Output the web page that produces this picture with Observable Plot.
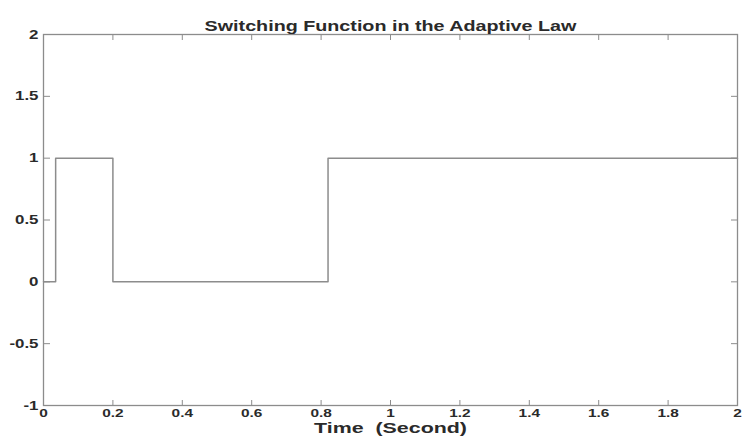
<!DOCTYPE html>
<html>
<head>
<meta charset="utf-8">
<script src="https://cdn.jsdelivr.net/npm/d3@7"></script>
<script src="https://cdn.jsdelivr.net/npm/@observablehq/plot@0.6"></script>
<style>
  html, body { margin: 0; padding: 0; background: #fff; }
</style>
</head>
<body>
<div id="chart"></div>
<script>
const title = "Switching Function in the Adaptive Law";
const xLabel = "Time  (Second)";
const times = [0, 0.035, 0.2, 0.82, 2];
const values = [0, 1, 0, 1, 1];
const xTicks = [0, 0.2, 0.4, 0.6, 0.8, 1, 1.2, 1.4, 1.6, 1.8, 2];
const yTicks = [-1, -0.5, 0, 0.5, 1, 1.5, 2];

const data = times.map((t, i) => ({t, v: values[i]}));
const font = "Liberation Sans, Arial, Helvetica, sans-serif";
const gray = "#8c8c8c";
const ink = "#2a2a2a";

const chart = Plot.plot({
  width: 743,
  height: 440,
  marginLeft: 43,
  marginRight: 6,
  marginTop: 34,
  marginBottom: 35,
  style: {fontFamily: font, fontSize: "12px", color: ink, background: "#fff"},
  x: {domain: [0, 2]},
  y: {domain: [-1, 2]},
  marks: [
    Plot.frame({stroke: gray, strokeWidth: 1.3}),
    Plot.axisX(xTicks, {anchor: "bottom", tickSize: 0, tickPadding: 4, tickFormat: d => String(d), label: null, fontWeight: "bold", fontSize: 11, fill: ink}),
    Plot.axisX(xTicks, {anchor: "bottom", tickSize: -5, text: null, stroke: gray, label: null}),
    Plot.axisX(xTicks, {anchor: "top", tickSize: -5, text: null, stroke: gray, label: null}),
    Plot.axisY(yTicks, {anchor: "left", tickSize: 0, tickPadding: 5, tickFormat: d => String(d), label: null, fontWeight: "bold", fontSize: 13, fill: ink}),
    Plot.axisY(yTicks, {anchor: "left", tickSize: -7, text: null, stroke: gray, label: null}),
    Plot.axisY(yTicks, {anchor: "right", tickSize: -7, text: null, stroke: gray, label: null}),
    Plot.line(data, {x: "t", y: "v", curve: "step-after", stroke: gray, strokeWidth: 1.5}),
    Plot.text([title], {frameAnchor: "top", dy: -14, fontSize: 15, fill: ink, fontWeight: "bold"}),
    Plot.text([xLabel], {frameAnchor: "bottom", dy: 27, fontSize: 15.5, fontWeight: "bold", fill: ink})
  ]
});
document.getElementById("chart").appendChild(chart);

// The reference text is horizontally stretched; reproduce that.
chart.querySelectorAll("text").forEach(t => {
  const txt = t.textContent;
  const g = t.closest("g[aria-label]");
  const lab = g ? g.getAttribute("aria-label") : "";
  let sx = 1;
  if (txt === title) sx = 372 / t.getComputedTextLength();
  else if (txt === xLabel) sx = 153 / t.getComputedTextLength();
  else if (lab.startsWith("x-axis")) sx = 1.4;
  else if (lab.startsWith("y-axis")) sx = 1.3;
  if (sx === 1) return;
  const x = +t.getAttribute("x") || 0;
  const prev = t.getAttribute("transform") || "";
  t.setAttribute("transform", `${prev} translate(${x},0) scale(${sx},1) translate(${-x},0)`);
});
</script>
</body>
</html>
